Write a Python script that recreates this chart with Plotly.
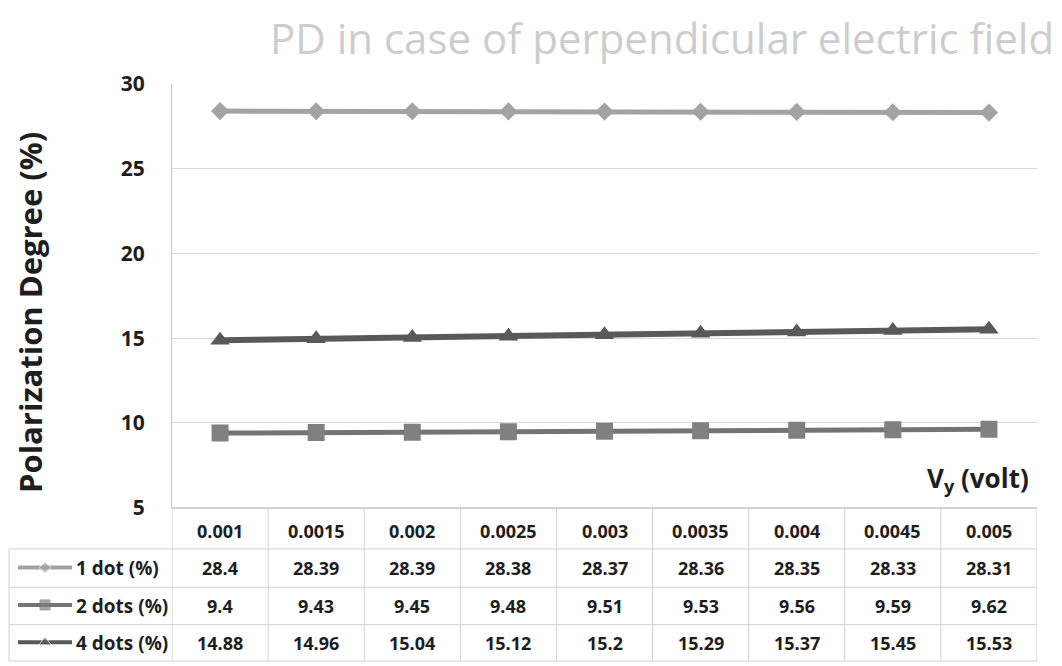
import plotly.graph_objects as go

# data
vy = ["0.001", "0.0015", "0.002", "0.0025", "0.003", "0.0035", "0.004", "0.0045", "0.005"]
one_dot = [28.4, 28.39, 28.39, 28.38, 28.37, 28.36, 28.35, 28.33, 28.31]
two_dots = [9.4, 9.43, 9.45, 9.48, 9.51, 9.53, 9.56, 9.59, 9.62]
four_dots = [14.88, 14.96, 15.04, 15.12, 15.2, 15.29, 15.37, 15.45, 15.53]
series_names = ["1 dot (%)", "2 dots (%)", "4 dots (%)"]

W, H = 1062, 666
FONT = "Open Sans"


# page pixel -> paper fraction (the page puts the paper at x+8, and 17 + 0.9745*y)
def px(x):
    return (x - 8) / W


def py(y):
    return 1 - (y - 17) / 649


# plot area in pixels
PL, PR, PT, PB = 172, 1037, 79, 510
# table rows (pixel lines)
ROW_LINES = [510, 552, 591, 629, 666]
TABLE_LEFT = 9

styles = [
    dict(color="#a3a3a3", line="#a3a3a3", symbol="diamond", size=14, width=5, key=9),
    dict(color="#808080", line="#747474", symbol="square", size=17, width=5, key=10),
    dict(color="#595959", line="#595959", symbol="triangle-up", size=17, width=6, key=11),
]
values = [one_dot, two_dots, four_dots]

fig = go.Figure()

for name, vals, st in zip(series_names, values, styles):
    fig.add_trace(go.Scatter(
        x=vy, y=vals, mode="lines+markers", name=name,
        line=dict(color=st["line"], width=st["width"]),
        marker=dict(symbol=st["symbol"], size=st["size"], color=st["color"]),
        xaxis="x", yaxis="y", showlegend=False,
    ))

# legend keys in the table's first column
for i, st in enumerate(styles):
    fig.add_trace(go.Scatter(
        x=[18, 45, 72], y=[i, i, i], mode="lines+markers",
        line=dict(color=st["line"], width=4),
        marker=dict(symbol=st["symbol"], size=[0, st["key"], 0], color=st["color"]),
        xaxis="x2", yaxis="y2", showlegend=False, hoverinfo="skip",
    ))

tcol = "#d0d0d0"
shapes = []
# horizontal table lines
for k, yl in enumerate(ROW_LINES):
    x0 = PL if k == 0 else TABLE_LEFT
    shapes.append(dict(type="line", xref="paper", yref="paper",
                       x0=px(x0), x1=px(PR), y0=py(yl), y1=py(yl),
                       line=dict(color=tcol, width=1)))
# vertical table lines at category boundaries
for j in range(len(vy) + 1):
    shapes.append(dict(type="line", xref="x", yref="paper",
                       x0=j - 0.5, x1=j - 0.5, y0=py(PB), y1=py(ROW_LINES[-1]),
                       line=dict(color=tcol, width=1)))
shapes.append(dict(type="line", xref="paper", yref="paper",
                   x0=px(TABLE_LEFT), x1=px(TABLE_LEFT), y0=py(ROW_LINES[1]), y1=py(ROW_LINES[-1]),
                   line=dict(color=tcol, width=1)))

annotations = []
cell_font = dict(family=FONT, size=18, color="#1e1e1e")
# header row
for j, v in enumerate(vy):
    annotations.append(dict(x=j, y=py(534), xref="x", yref="paper", xanchor="center", yanchor="middle",
                            text="<b>%s</b>" % v, showarrow=False, font=cell_font))
for r, (name, vals) in enumerate(zip(series_names, values)):
    yc = py((ROW_LINES[r + 1] + ROW_LINES[r + 2]) / 2)
    annotations.append(dict(x=px(74), y=yc, xref="paper", yref="paper", xanchor="left", yanchor="middle",
                            text="<b>%s</b>" % name, showarrow=False,
                            font=dict(family=FONT, size=19, color="#1e1e1e")))
    for j, v in enumerate(vals):
        annotations.append(dict(x=j, y=yc, xref="x", yref="paper", xanchor="center", yanchor="middle",
                                text="<b>%g</b>" % v, showarrow=False, font=cell_font))

annotations += [
    dict(x=px(1056), y=py(32), xref="paper", yref="paper", xanchor="right", yanchor="middle",
         text="PD in case of perpendicular electric field", showarrow=False,
         font=dict(family=FONT, size=42, color="#cdcdcd")),
    dict(x=px(30), y=py(312), xref="paper", yref="paper", textangle=-90,
         xanchor="center", yanchor="middle",
         text="<b>Polarization Degree (%)</b>", showarrow=False,
         font=dict(family=FONT, size=31, color="#1e1e1e")),
    dict(x=px(1031), y=py(481), xref="paper", yref="paper", xanchor="right", yanchor="middle",
         text="<b>V<sub>y</sub> (volt)</b>", showarrow=False,
         font=dict(family=FONT, size=26, color="#1e1e1e")),
]

fig.update_layout(
    width=W, height=H,
    margin=dict(l=0, r=0, t=0, b=0),
    paper_bgcolor="white", plot_bgcolor="white",
    xaxis=dict(domain=[px(PL), px(PR)], type="category", range=[-0.5, len(vy) - 0.5],
               showticklabels=False, showgrid=False, zeroline=False,
               showline=True, linecolor=tcol, ticks=""),
    yaxis=dict(domain=[py(PB), py(PT)], range=[5, 30], dtick=5,
               showgrid=True, gridcolor="#d9d9d9", zeroline=False,
               showline=True, linecolor="#c4c4c4", ticks="",
               tickfont=dict(family=FONT, size=21, color="#1e1e1e"),
               tickprefix="<b>", ticksuffix="</b>", ticklabelstandoff=22),
    xaxis2=dict(domain=[px(TABLE_LEFT), px(PL)], range=[TABLE_LEFT, PL], visible=False, fixedrange=True),
    yaxis2=dict(domain=[py(ROW_LINES[-1]), py(ROW_LINES[1])], range=[2.5, -0.5],
                visible=False, fixedrange=True),
    shapes=shapes, annotations=annotations,
)

fig.write_html("out.html")
